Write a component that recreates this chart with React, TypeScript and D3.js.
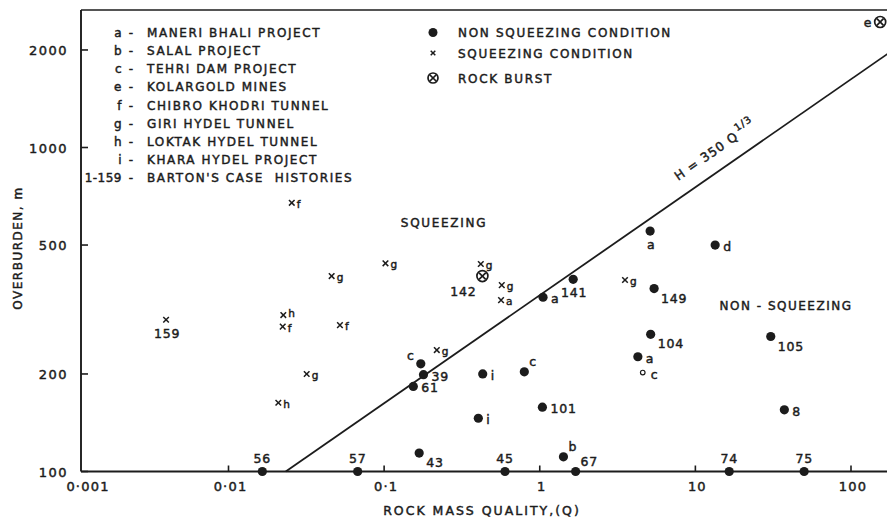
import React from 'react';
import * as d3 from 'd3';

const W = 887;
const H = 517;

// Non squeezing condition (filled circles): [Q, H, label, labelPlacement]
const nonSqueezing: [number, number, string, string][] = [
  [5.12, 552, 'a', 'b'],
  [13.4, 500, 'd', 'r'],
  [1.64, 392, '141', 'b'],
  [1.05, 345, 'a', 'r'],
  [5.43, 367, '149', 'br'],
  [5.16, 265, '104', 'br'],
  [30.5, 261, '105', 'br'],
  [4.27, 226, 'a', 'r'],
  [0.796, 203, 'c', 'tr'],
  [0.172, 215, 'c', 'tl'],
  [0.179, 199, '39', 'r'],
  [0.154, 183, '61', 'r'],
  [0.43, 200, 'i', 'r'],
  [0.403, 146, 'i', 'r'],
  [1.04, 158, '101', 'r'],
  [37.3, 155, '8', 'r'],
  [0.168, 114, '43', 'br'],
  [1.42, 111, 'b', 'tr'],
  [0.0165, 100, '56', 't'],
  [0.0676, 100, '57', 't'],
  [0.598, 100, '45', 't'],
  [1.7, 100, '67', 'tr'],
  [16.5, 100, '74', 't'],
  [50, 100, '75', 't'],
];

// Open circle point
const openPoints: [number, number, string, string][] = [[4.59, 202, 'c', 'r']];

// Squeezing condition (crosses)
const squeezing: [number, number, string, string][] = [
  [0.0255, 675, 'f', 'sub'],
  [0.102, 439, 'g', 'sub'],
  [0.046, 401, 'g', 'sub'],
  [0.0225, 304, 'h', 'lvl'],
  [0.0223, 280, 'f', 'sub'],
  [0.052, 283, 'f', 'sub'],
  [0.0318, 200, 'g', 'sub'],
  [0.0209, 163, 'h', 'sub'],
  [0.00397, 294, '159', 'b'],
  [0.218, 237, 'g', 'sub'],
  [0.418, 437, 'g', 'sub'],
  [0.57, 376, 'g', 'sub'],
  [0.564, 338, 'a', 'sub'],
  [3.53, 390, 'g', 'sub'],
];

// Rock burst (circle with cross)
const rockBurst: [number, number, string, string][] = [
  [0.428, 401, '142', 'bl'],
  [154, 2440, 'e', 'l'],
];

const xTicks = [0.01, 0.1, 1, 10, 100];
const xTickLabels = ['0·01', '0·1', '1', '10', '100'];
const xFirstTickLabel = '0·001';
const yTicks = [100, 200, 500, 1000, 2000];
const yTickLabels = ['100', '200', '500', '1000', '2000'];

const projectKeys = ['a', 'b', 'c', 'e', 'f', 'g', 'h', 'i', '1-159'];
const projectNames = [
  'MANERI BHALI PROJECT',
  'SALAL PROJECT',
  'TEHRI DAM PROJECT',
  'KOLARGOLD MINES',
  'CHIBRO KHODRI TUNNEL',
  'GIRI HYDEL TUNNEL',
  'LOKTAK HYDEL TUNNEL',
  'KHARA HYDEL PROJECT',
  "BARTON'S CASE  HISTORIES",
];
const symbolNames = ['NON SQUEEZING CONDITION', 'SQUEEZING CONDITION', 'ROCK BURST'];

const lineCoef = 350;
const lineExp = 1 / 3;

const INK = '#1c1c1c';
const FONT = '"DejaVu Sans", "Liberation Sans", sans-serif';
const TXT = { fontFamily: FONT, fill: INK, stroke: INK, strokeWidth: 0.45 } as const;

const left = 81;
const right = 887;
const top = 10;
const bottom = 471.5;

const x = d3.scaleLog().domain([0.01, 100]).range([228.5, 851]);
const y = d3.scaleLog().domain([100, 1000]).range([471.5, 147.5]);

function labelProps(pos: string) {
  switch (pos) {
    case 'r': return { dx: 8, dy: 6, anchor: 'start' };
    case 'br': return { dx: 7, dy: 14, anchor: 'start' };
    case 'b': return { dx: 1, dy: 18, anchor: 'middle' };
    case 't': return { dx: 0, dy: -9, anchor: 'middle' };
    case 'tr': return { dx: 5, dy: -6, anchor: 'start' };
    case 'tl': return { dx: -6, dy: -4, anchor: 'end' };
    case 'bl': return { dx: -6, dy: 20, anchor: 'end' };
    case 'l': return { dx: -8, dy: 5, anchor: 'end' };
    case 'sub': return { dx: 5, dy: 5, anchor: 'start' };
    case 'lvl': return { dx: 5, dy: 2, anchor: 'start' };
    default: return { dx: 6, dy: 4, anchor: 'start' };
  }
}

function PointLabel({ px, py, text, pos, size = 12.5 }: { px: number; py: number; text: string; pos: string; size?: number }) {
  const p = labelProps(pos);
  return (
    <text x={px + p.dx} y={py + p.dy} textAnchor={p.anchor as any} fontSize={size} {...TXT} letterSpacing={0.8}>
      {text}
    </text>
  );
}

function Cross({ cx, cy, s = 2.8 }: { cx: number; cy: number; s?: number }) {
  return (
    <g stroke={INK} strokeWidth={1.5}>
      <line x1={cx - s} y1={cy - s} x2={cx + s} y2={cy + s} />
      <line x1={cx - s} y1={cy + s} x2={cx + s} y2={cy - s} />
    </g>
  );
}

function Burst({ cx, cy, r = 5.5 }: { cx: number; cy: number; r?: number }) {
  const s = r * 0.6;
  return (
    <g stroke={INK} strokeWidth={1.7} fill="white">
      <circle cx={cx} cy={cy} r={r} />
      <line x1={cx - s} y1={cy - s} x2={cx + s} y2={cy + s} />
      <line x1={cx - s} y1={cy + s} x2={cx + s} y2={cy - s} />
    </g>
  );
}

export default function App() {
  const qStart = Math.pow(100 / lineCoef, 1 / lineExp);
  const qEnd = x.invert(right + 5);
  const qs = [qStart, qEnd];
  const linePath = d3.line<number>()
    .x((q) => x(q))
    .y((q) => y(lineCoef * Math.pow(q, lineExp)))(qs) as string;

  // label along the line
  const qa = 8.8;
  const qb = 20;
  const ax = x(qa), ay = y(lineCoef * Math.pow(qa, lineExp));
  const bx = x(qb), by = y(lineCoef * Math.pow(qb, lineExp));
  const ang = (Math.atan2(by - ay, bx - ax) * 180) / Math.PI;
  const rad = (ang * Math.PI) / 180;
  const off = 15;
  const lx = ax + off * Math.sin(rad);
  const ly = ay - off * Math.cos(rad);

  return (
    <svg width={W} height={H} style={{ position: 'absolute', left: 0, top: 0, background: 'white' }}>
      <defs>
        <clipPath id="plot">
          <rect x={left} y={top - 8} width={right - left + 10} height={bottom - top + 16} />
        </clipPath>
      </defs>
      <rect x={0} y={0} width={W} height={H} fill="white" />

      {/* frame */}
      <g stroke={INK} fill="none">
        <line x1={left} y1={top} x2={right} y2={top} strokeWidth={1.3} />
        <line x1={left} y1={top} x2={left} y2={bottom} strokeWidth={1.9} />
        <line x1={left} y1={bottom} x2={right} y2={bottom} strokeWidth={1.9} />
      </g>

      {/* y ticks */}
      {yTicks.map((t, i) => (
        <g key={'yt' + i}>
          <line x1={left} x2={left + 7} y1={y(t)} y2={y(t)} stroke={INK} strokeWidth={1.6} />
          <text x={left - 13} y={y(t) + 5} textAnchor="end" fontSize={13} {...TXT} letterSpacing={1.5}>
            {yTickLabels[i]}
          </text>
        </g>
      ))}

      {/* x ticks */}
      {xTicks.map((t, i) => (
        <g key={'xt' + i}>
          <line x1={x(t)} x2={x(t)} y1={bottom} y2={bottom - 6} stroke={INK} strokeWidth={1.6} />
          <text x={x(t) + 2} y={bottom + 19} textAnchor="middle" fontSize={13} {...TXT} letterSpacing={1.2}>
            {xTickLabels[i]}
          </text>
        </g>
      ))}
      <text x={left + 7} y={bottom + 19} textAnchor="middle" fontSize={13} {...TXT} letterSpacing={1.2}>
        {xFirstTickLabel}
      </text>

      {/* axis titles */}
      <text x={482} y={515} textAnchor="middle" fontSize={12.5} {...TXT} letterSpacing={2}>
        ROCK MASS QUALITY,(Q)
      </text>
      <text transform="translate(22,248) rotate(-90)" textAnchor="middle" fontSize={12} {...TXT} letterSpacing={1.5}>
        OVERBURDEN, m
      </text>

      {/* legend: projects */}
      {projectKeys.map((k, i) => (
        <g key={'pk' + i}>
          <text x={122} y={37 + i * 18.15} textAnchor="end" fontSize={12} {...TXT} letterSpacing={0.5}>
            {k}
          </text>
          <text x={131} y={37 + i * 18.15} textAnchor="middle" fontSize={12} {...TXT}>
            -
          </text>
          <text x={147} y={37 + i * 18.15} fontSize={12} {...TXT} letterSpacing={1.6} style={{ whiteSpace: 'pre' }}>
            {projectNames[i]}
          </text>
        </g>
      ))}

      {/* legend: symbols */}
      <circle cx={433} cy={32.5} r={4.5} fill={INK} />
      <Cross cx={433} cy={53} s={2.3} />
      <Burst cx={433} cy={78} r={5} />
      {symbolNames.map((s, i) => (
        <text key={'sn' + i} x={458} y={[37, 57.5, 82.5][i]} fontSize={12} {...TXT} letterSpacing={1.7}>
          {s}
        </text>
      ))}

      {/* region labels */}
      <text x={444} y={227} textAnchor="middle" fontSize={12} {...TXT} letterSpacing={1.7}>
        SQUEEZING
      </text>
      <text x={786} y={310} textAnchor="middle" fontSize={12} {...TXT} letterSpacing={1.5}>
        NON - SQUEEZING
      </text>

      <g clipPath="url(#plot)">
        <path d={linePath} fill="none" stroke={INK} strokeWidth={1.8} />

        {nonSqueezing.map(([q, h, lab, pos], i) => (
          <g key={'ns' + i}>
            <circle cx={x(q)} cy={y(h)} r={4.6} fill={INK} />
            <PointLabel px={x(q)} py={y(h)} text={lab} pos={pos} />
          </g>
        ))}

        {openPoints.map(([q, h, lab, pos], i) => (
          <g key={'op' + i}>
            <circle cx={x(q)} cy={y(h)} r={2.3} fill="white" stroke={INK} strokeWidth={1.2} />
            <PointLabel px={x(q)} py={y(h)} text={lab} pos={pos} />
          </g>
        ))}

        {squeezing.map(([q, h, lab, pos], i) => (
          <g key={'sq' + i}>
            <Cross cx={x(q)} cy={y(h)} s={2.8} />
            <PointLabel px={x(q)} py={y(h)} text={lab} pos={pos} size={pos === 'b' ? 12.5 : 10.5} />
          </g>
        ))}

        {rockBurst.map(([q, h, lab, pos], i) => (
          <g key={'rb' + i}>
            <Burst cx={x(q)} cy={y(h)} />
            <PointLabel px={x(q)} py={y(h)} text={lab} pos={pos} />
          </g>
        ))}
      </g>

      <text transform={`translate(${lx},${ly}) rotate(${ang})`} fontSize={12.5} {...TXT} letterSpacing={1}>
        H = 350 Q
        <tspan fontSize={10} dy={-7} dx={2}>1/3</tspan>
      </text>
    </svg>
  );
}
